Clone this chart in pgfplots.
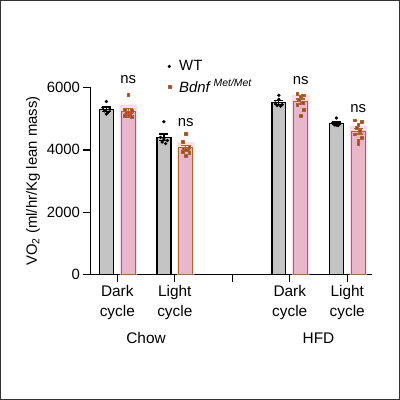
\documentclass[border=0pt]{standalone}
\usepackage{fontspec}
\setmainfont{Liberation Sans}
\usepackage{pgfplots}
\pgfplotsset{compat=1.18}
\definecolor{wtgray}{HTML}{C4C4C4}
\definecolor{mpink}{HTML}{E8B8CA}
\definecolor{mhalo}{HTML}{FBDDF0}
\definecolor{medge}{HTML}{B0652A}
\definecolor{mred}{HTML}{D42E22}
\definecolor{mbrown}{HTML}{9E6A34}
\definecolor{framegray}{HTML}{333333}
\pgfplotsset{
  onemark/.style={legend image code/.code={\path[draw=none, fill=none] (-2bp,-1bp) rectangle (8bp,1bp); \draw[##1] plot coordinates {(0bp,0bp)};}},
}
\begin{document}
\begin{tikzpicture}
\draw[framegray, line width=1.5bp] (0bp,0bp) rectangle (400bp,400bp);
\begin{axis}[at={(90bp,125bp)}, anchor=south west,
  scale only axis, width=283bp, height=188bp,
  xmin=-0.468, xmax=4.437, ymin=0, ymax=6000,
  axis x line=bottom, axis y line=left,
  axis line style={line width=1.3bp, -},
  every tick/.style={line width=1.3bp, black},
  major tick length=7bp,
  xtick={0,1,2,3,4}, xtick pos=bottom, xtick align=outside,
  xticklabels={Dark\\cycle, Light\\cycle, {}, Dark\\cycle, Light\\cycle},
  x tick label style={align=center, font=\fontsize{15.5}{20}\selectfont},
  ytick={0,2000,4000,6000}, ytick align=outside,
  y tick label style={font=\fontsize{15}{18}\selectfont},
  /pgf/number format/assume math mode=true,
  /pgf/number format/set thousands separator={},
  ylabel={VO\textsubscript{2} (ml/hr/Kg lean mass)},
  ylabel style={font=\fontsize{15}{18}\selectfont},
  clip=false,
  legend style={at={(axis description cs:0.272,1.155)}, anchor=north west,
    draw=none, fill=none, font=\fontsize{15}{18}\selectfont, row sep=3bp,
    inner sep=0pt},
  legend cell align=left,
]
% halo behind the Bdnf bars
\addplot[ybar, bar shift=0pt, bar width=0.30, fill=mhalo, draw=none, forget plot]
  coordinates {(0.19,5450) (1.19,4250) (3.19,5750) (4.19,4780)};
% WT bars
\addplot[ybar, bar shift=0pt, bar width=0.243, fill=wtgray, draw=black, line width=1.3bp, forget plot,
  error bars/.cd, y dir=both, y explicit,
  error bar style={line width=1.3bp, black},
  error mark options={rotate=90, mark size=4.5bp, line width=1.3bp, black}]
  coordinates {(-0.19,5300) +- (0,70) (0.81,4400) +- (0,110) (2.81,5520) +- (0,60) (3.81,4850) +- (0,40)};
% Bdnf Met/Met bars
\addplot[ybar, bar shift=0pt, bar width=0.243, fill=mpink, draw=medge, line width=1.2bp, forget plot,
  error bars/.cd, y dir=both, y explicit,
  error bar style={line width=1.1bp, medge},
  error mark options={rotate=90, mark size=4.5bp, line width=1.1bp, medge}]
  coordinates {(0.19,5237) +- (0,75) (1.19,4064) +- (0,75) (3.19,5550) +- (0,80) (4.19,4594) +- (0,85)};
% WT points
\addplot[only marks, mark=*, mark size=1.45bp, black, onemark]
  coordinates {(-0.19,5550) (-0.25,5350) (-0.13,5300) (-0.22,5250) (-0.16,5200) (-0.19,5150)
    (0.81,4900) (0.75,4400) (0.87,4300) (0.78,4250) (0.84,4200) (0.81,4350)
    (2.81,5750) (2.81,5620) (2.75,5500) (2.87,5450) (2.78,5420) (2.84,5400)
    (3.81,5020) (3.75,4880) (3.87,4830) (3.78,4800) (3.84,4780) (3.81,4790)};
\addlegendentry{WT}
% Bdnf Met/Met points
\addplot[only marks, mark=square*, mark size=1.45bp, mark options={fill=mred, draw=mbrown, line width=0.4bp}, onemark]
  coordinates {(0.19,5780) (0.13,5300) (0.25,5250) (0.16,5200) (0.22,5150) (0.13,5100) (0.25,5050) (0.19,5200) (0.19,5100)
    (1.19,4530) (1.13,4250) (1.25,4100) (1.16,4050) (1.22,4000) (1.13,3950) (1.25,3900) (1.19,4000) (1.19,3800)
    (3.13,5800) (3.25,5750) (3.19,5700) (3.16,5600) (3.22,5500) (3.13,5450) (3.25,5300) (3.19,5100) (3.22,5750)
    (4.13,4950) (4.25,4900) (4.19,4800) (4.16,4700) (4.22,4600) (4.13,4500) (4.25,4400) (4.19,4300) (4.19,4200)};
\addlegendentry{\textit{Bdnf}\,\textsuperscript{\textit{Met/Met}}}
% significance labels
\node[font=\fontsize{15}{18}\selectfont] at (axis cs:0.19,6255) {ns};
\node[font=\fontsize{15}{18}\selectfont] at (axis cs:1.19,4883) {ns};
\node[font=\fontsize{15}{18}\selectfont] at (axis cs:3.19,6223) {ns};
\node[font=\fontsize{15}{18}\selectfont] at (axis cs:4.19,5330) {ns};
% group labels
\node[font=\fontsize{15.5}{20}\selectfont] at (axis cs:0.5,0) [yshift=-64bp] {Chow};
\node[font=\fontsize{15.5}{20}\selectfont] at (axis cs:3.5,0) [yshift=-64bp] {HFD};
\end{axis}
\end{tikzpicture}
\end{document}
